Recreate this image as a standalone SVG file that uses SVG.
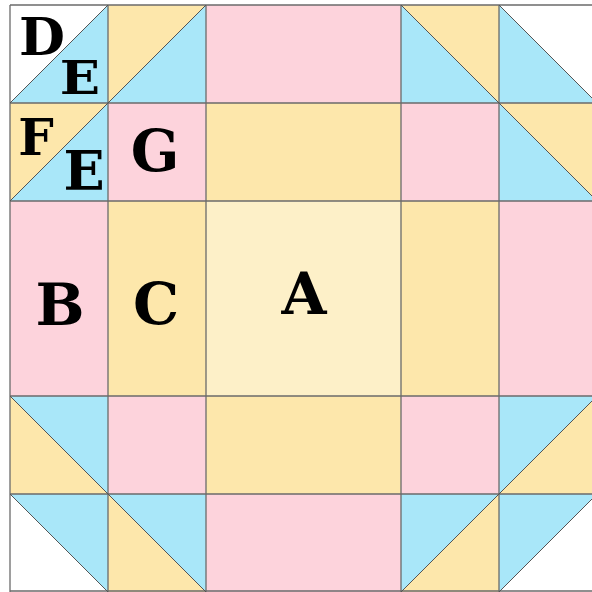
<svg xmlns="http://www.w3.org/2000/svg" width="592" height="592" viewBox="0 0 592 592">
<style>
.p{fill:#FDD3DC}
.y{fill:#FDE7AB}
.b{fill:#A9E7F9}
.w{fill:#FFFFFF}
.a{fill:#FDF0C8}
.g{stroke:#6b6b6b;stroke-width:1.3;fill:none}
.d{stroke:#555;stroke-width:1;fill:none}
.t{font-family:"DejaVu Serif",serif;font-weight:bold;fill:#000;text-anchor:middle}
</style>
<rect x="0" y="0" width="592" height="592" fill="#fff"/>
<g id="patches">
<polygon class="w" points="10,5 108,5 10,103"/>
<polygon class="b" points="108,5 108,103 10,103"/>
<polygon class="y" points="108,5 206,5 108,103"/>
<polygon class="b" points="206,5 206,103 108,103"/>
<rect class="p" x="206" y="5" width="195" height="98"/>
<polygon class="y" points="401,5 499,5 499,103"/>
<polygon class="b" points="401,5 499,103 401,103"/>
<polygon class="w" points="499,5 597,5 597,103"/>
<polygon class="b" points="499,5 597,103 499,103"/>
<polygon class="y" points="10,103 108,103 10,201"/>
<polygon class="b" points="108,103 108,201 10,201"/>
<rect class="p" x="108" y="103" width="98" height="98"/>
<rect class="y" x="206" y="103" width="195" height="98"/>
<rect class="p" x="401" y="103" width="98" height="98"/>
<polygon class="y" points="499,103 597,103 597,201"/>
<polygon class="b" points="499,103 597,201 499,201"/>
<rect id="B" class="p" x="10" y="201" width="98" height="195"/>
<rect id="C" class="y" x="108" y="201" width="98" height="195"/>
<rect id="A" class="a" x="206" y="201" width="195" height="195"/>
<rect class="y" x="401" y="201" width="98" height="195"/>
<rect class="p" x="499" y="201" width="98" height="195"/>
<polygon class="b" points="10,396 108,396 108,494"/>
<polygon class="y" points="10,396 108,494 10,494"/>
<rect class="p" x="108" y="396" width="98" height="98"/>
<rect class="y" x="206" y="396" width="195" height="98"/>
<rect class="p" x="401" y="396" width="98" height="98"/>
<polygon class="b" points="499,396 597,396 499,494"/>
<polygon class="y" points="597,396 597,494 499,494"/>
<polygon class="b" points="10,494 108,494 108,592"/>
<polygon class="w" points="10,494 108,592 10,592"/>
<polygon class="b" points="108,494 206,494 206,592"/>
<polygon class="y" points="108,494 206,592 108,592"/>
<rect class="p" x="206" y="494" width="195" height="98"/>
<polygon class="b" points="401,494 499,494 401,592"/>
<polygon class="y" points="499,494 499,592 401,592"/>
<polygon class="b" points="499,494 597,494 499,592"/>
<polygon class="w" points="597,494 597,592 499,592"/>
</g>
<g id="seams">
<path class="g" d="M10,5 H597 M10,103 H597 M10,201 H597 M10,396 H597 M10,494 H597 M10,591 H597"/>
<path class="g" d="M10,5 V592 M108,5 V592 M206,5 V592 M401,5 V592 M499,5 V592"/>
<path class="d" d="M10,103 L108,5 M108,103 L206,5 M401,5 L499,103 M499,5 L597,103 M10,201 L108,103 M499,103 L597,201"/>
<path class="d" d="M10,396 L108,494 M499,494 L597,396 M10,494 L108,592 M108,494 L206,592 M401,592 L499,494 M499,592 L597,494"/>
</g>
<g id="labels">
<text class="t" x="42" y="55" font-size="53">D</text>
<text class="t" transform="translate(80,94) scale(1.15,1)" x="0" y="0" font-size="46">E</text>
<text class="t" x="36" y="155" font-size="50">F</text>
<text class="t" x="84" y="190" font-size="54">E</text>
<text class="t" x="155" y="171" font-size="57">G</text>
<text class="t" x="60" y="325" font-size="58">B</text>
<text class="t" x="156" y="324" font-size="58">C</text>
<text class="t" x="304" y="314" font-size="58">A</text>
</g>
</svg>
